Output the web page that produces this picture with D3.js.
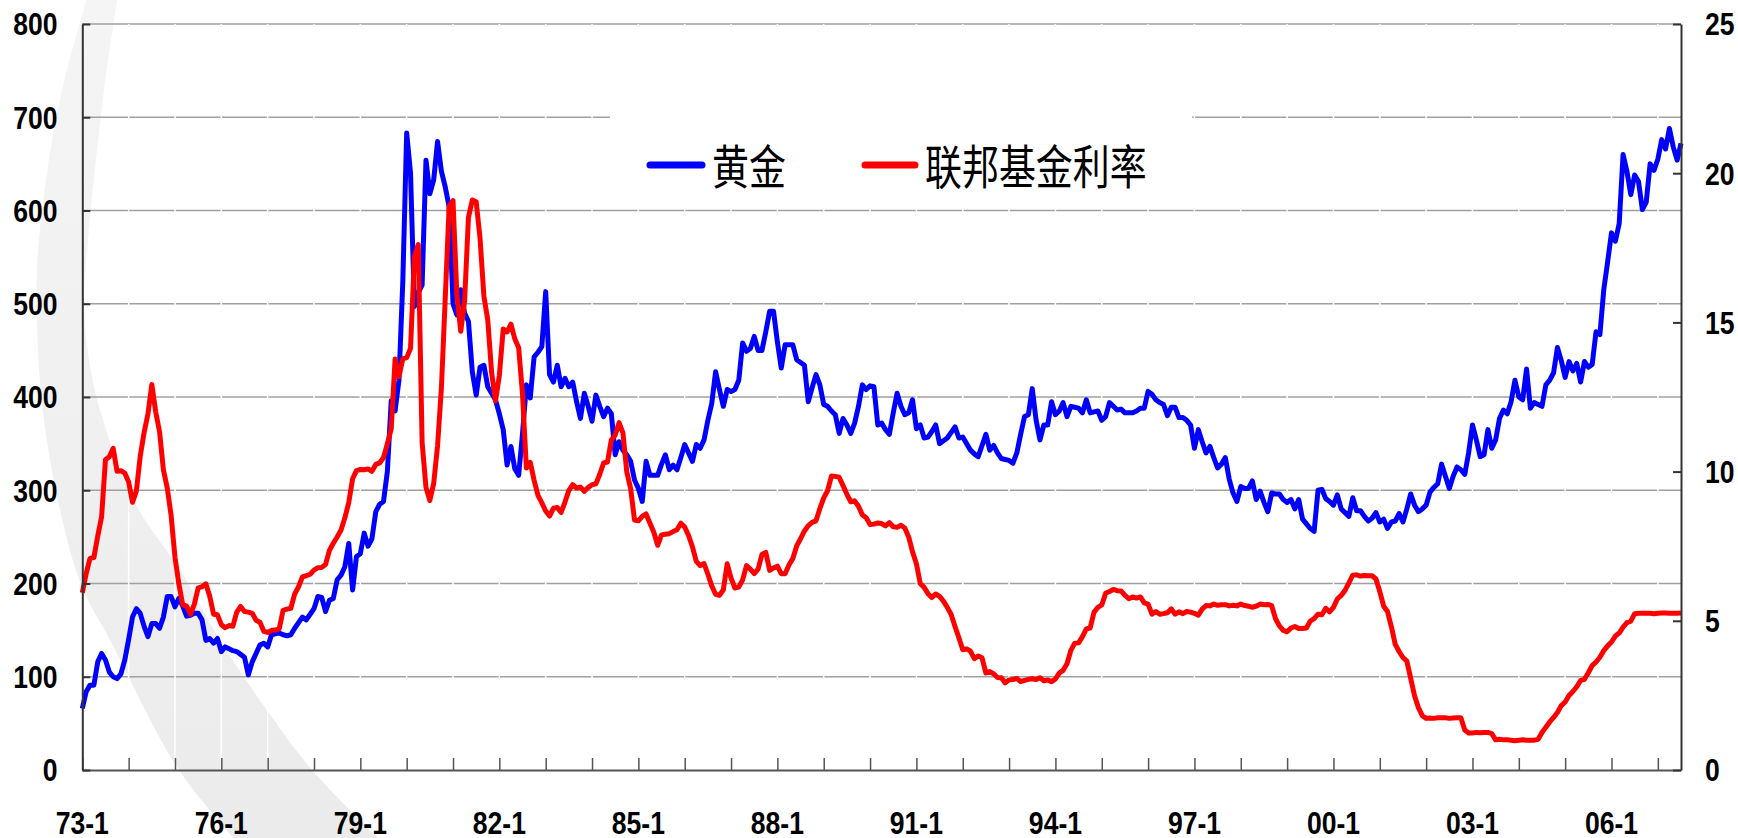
<!DOCTYPE html>
<html>
<head>
<meta charset="utf-8">
<script src="https://cdn.jsdelivr.net/npm/d3@7"></script>
<style>
  body { margin: 0; background: #fff; }
  svg { display: block; }
</style>
</head>
<body>
<script>
// month categories 73-1 .. 07-7
var months = [];
d3.range(1973, 2008).forEach(function(yr) {
    d3.range(1, 13).forEach(function(m) { months.push(String(yr).slice(2) + "-" + m); });
});
months = months.slice(0, 415);

// gold price, USD/oz (left axis)
var goldPrice = [
    66, 84, 91, 91, 116, 125, 118, 105, 100, 98, 103, 118,            // 1973
    140, 164, 173, 168, 154, 143, 157, 157, 152, 164, 186, 186,       // 1974
    175, 184, 176, 165, 166, 168, 168, 161, 139, 141, 136, 141,       // 1975
    127, 132, 130, 128, 127, 124, 121, 102, 116, 125, 134, 136,       // 1976
    132, 145, 146, 147, 145, 144, 145, 152, 158, 164, 161, 167,       // 1977
    173, 186, 185, 170, 182, 184, 204, 209, 218, 243, 193, 229,       // 1978
    232, 254, 240, 248, 277, 285, 288, 320, 396, 385, 418, 524,       // 1979
    683, 640, 497, 512, 520, 654, 618, 633, 674, 642, 625, 604,       // 1980
    500, 488, 515, 490, 481, 427, 402, 432, 434, 411, 404, 397,       // 1981
    382, 365, 327, 347, 323, 316, 361, 413, 399, 443, 448, 454,       // 1982
    513, 424, 416, 434, 411, 420, 411, 416, 395, 377, 404, 390,       // 1983
    374, 402, 390, 379, 388, 382, 338, 352, 343, 338, 331, 311,       // 1984
    302, 288, 331, 316, 316, 316, 328, 338, 322, 327, 322, 335,       // 1985
    349, 340, 331, 349, 345, 354, 375, 393, 427, 408, 390, 408,       // 1986
    406, 408, 418, 458, 449, 452, 465, 450, 450, 470, 492, 492,       // 1987
    459, 431, 456, 456, 456, 440, 437, 434, 395, 410, 424, 413,       // 1988
    392, 390, 385, 381, 361, 377, 370, 361, 372, 390, 413, 408,       // 1989
    412, 411, 370, 372, 365, 360, 383, 404, 390, 381, 383, 397,       // 1990
    366, 370, 356, 357, 363, 370, 350, 353, 356, 362, 368, 356,       // 1991
    357, 350, 343, 339, 336, 348, 360, 343, 348, 340, 334, 333,       // 1992
    332, 329, 340, 360, 379, 381, 409, 375, 354, 370, 370, 395,       // 1993
    381, 385, 394, 379, 390, 389, 388, 383, 397, 383, 384, 385,       // 1994
    375, 379, 394, 390, 386, 387, 383, 383, 383, 385, 388, 388,       // 1995
    406, 403, 397, 394, 392, 380, 389, 389, 378, 378, 375, 370,       // 1996
    345, 365, 352, 340, 347, 335, 324, 328, 335, 312, 297, 288,       // 1997
    304, 302, 302, 310, 290, 299, 287, 277, 297, 296, 296, 290,       // 1998
    287, 290, 280, 290, 269, 264, 259, 256, 300, 301, 291, 288,       // 1999
    284, 295, 280, 276, 272, 292, 278, 278, 272, 267, 270, 276,       // 2000
    266, 269, 259, 266, 267, 275, 266, 280, 296, 284, 277, 280,       // 2001
    284, 298, 303, 307, 328, 315, 302, 315, 325, 322, 317, 340,       // 2002
    370, 354, 336, 338, 365, 345, 354, 377, 386, 382, 395, 418,       // 2003
    400, 397, 430, 388, 394, 392, 390, 413, 418, 426, 453, 439,       // 2004
    421, 438, 428, 436, 416, 438, 432, 435, 470, 467, 515, 545,       // 2005
    576, 567, 586, 660, 642, 617, 638, 631, 601, 609, 650, 643,       // 2006
    655, 676, 666, 688, 668, 654, 672                                 // 2007
];

// federal funds rate, % (right axis)
var fedFunds = [
    5.94, 6.58, 7.09, 7.12, 7.84, 8.49, 10.40, 10.50, 10.78, 10.01, 10.03, 9.95,
    9.65, 8.97, 9.35, 10.51, 11.31, 11.93, 12.92, 12.01, 11.34, 10.06, 9.45, 8.53,
    7.13, 6.24, 5.54, 5.49, 5.22, 5.55, 6.10, 6.14, 6.24, 5.82, 5.22, 5.20,
    4.87, 4.77, 4.84, 4.82, 5.29, 5.48, 5.31, 5.29, 5.25, 5.02, 4.95, 4.65,
    4.61, 4.68, 4.69, 4.73, 5.35, 5.39, 5.42, 5.90, 6.14, 6.47, 6.51, 6.56,
    6.70, 6.78, 6.79, 6.89, 7.36, 7.60, 7.81, 8.04, 8.45, 8.96, 9.76, 10.03,
    10.07, 10.06, 10.09, 10.01, 10.24, 10.29, 10.47, 10.94, 11.43, 13.77, 13.18, 13.78,
    13.82, 14.13, 17.19, 17.61, 10.98, 9.47, 9.03, 9.61, 10.87, 12.81, 15.85, 18.90,
    19.08, 15.93, 14.70, 15.72, 18.52, 19.10, 19.04, 17.82, 15.87, 15.08, 13.31, 12.37,
    13.22, 14.78, 14.68, 14.94, 14.45, 14.15, 12.59, 10.12, 10.31, 9.71, 9.20, 8.95,
    8.68, 8.51, 8.77, 8.80, 8.63, 8.98, 9.37, 9.56, 9.45, 9.48, 9.34, 9.47,
    9.56, 9.59, 9.91, 10.29, 10.32, 11.06, 11.23, 11.64, 11.30, 9.99, 9.43, 8.38,
    8.35, 8.50, 8.58, 8.27, 7.97, 7.53, 7.88, 7.90, 7.92, 7.99, 8.05, 8.27,
    8.14, 7.86, 7.48, 6.99, 6.85, 6.92, 6.56, 6.17, 5.89, 5.85, 6.04, 6.91,
    6.43, 6.10, 6.13, 6.37, 6.85, 6.73, 6.58, 6.73, 7.22, 7.29, 6.69, 6.77,
    6.83, 6.58, 6.58, 6.87, 7.09, 7.51, 7.75, 8.01, 8.19, 8.30, 8.35, 8.76,
    9.12, 9.36, 9.85, 9.84, 9.81, 9.53, 9.24, 8.99, 9.02, 8.84, 8.55, 8.45,
    8.23, 8.24, 8.28, 8.26, 8.18, 8.29, 8.15, 8.13, 8.20, 8.11, 7.81, 7.31,
    6.91, 6.25, 6.12, 5.91, 5.78, 5.90, 5.82, 5.66, 5.45, 5.21, 4.81, 4.43,
    4.03, 4.06, 3.98, 3.73, 3.82, 3.76, 3.25, 3.30, 3.22, 3.10, 3.09, 2.92,
    3.02, 3.03, 3.07, 2.96, 3.00, 3.04, 3.06, 3.03, 3.09, 2.99, 3.02, 2.96,
    3.05, 3.25, 3.34, 3.56, 4.01, 4.25, 4.26, 4.47, 4.73, 4.76, 5.29, 5.45,
    5.53, 5.92, 5.98, 6.05, 6.01, 6.00, 5.85, 5.74, 5.80, 5.76, 5.80, 5.60,
    5.56, 5.22, 5.31, 5.22, 5.24, 5.27, 5.40, 5.22, 5.30, 5.24, 5.31, 5.29,
    5.25, 5.19, 5.39, 5.51, 5.50, 5.56, 5.52, 5.54, 5.54, 5.50, 5.52, 5.50,
    5.56, 5.51, 5.49, 5.45, 5.49, 5.56, 5.54, 5.55, 5.51, 5.07, 4.83, 4.68,
    4.63, 4.76, 4.81, 4.74, 4.74, 4.76, 4.99, 5.07, 5.22, 5.20, 5.42, 5.30,
    5.45, 5.73, 5.85, 6.02, 6.27, 6.53, 6.54, 6.50, 6.52, 6.51, 6.51, 6.40,
    5.98, 5.49, 5.31, 4.80, 4.21, 3.97, 3.77, 3.65, 3.07, 2.49, 2.09, 1.82,
    1.73, 1.74, 1.73, 1.75, 1.75, 1.75, 1.73, 1.74, 1.75, 1.75, 1.34, 1.24,
    1.24, 1.26, 1.25, 1.26, 1.26, 1.22, 1.01, 1.03, 1.01, 1.01, 1.00, 0.98,
    1.00, 1.01, 1.00, 1.00, 1.00, 1.03, 1.26, 1.43, 1.61, 1.76, 1.93, 2.16,
    2.28, 2.50, 2.63, 2.79, 3.00, 3.04, 3.26, 3.50, 3.62, 3.78, 4.00, 4.16,
    4.29, 4.49, 4.59, 4.79, 4.94, 4.99, 5.24, 5.25, 5.25, 5.25, 5.25, 5.24,
    5.25, 5.26, 5.26, 5.25, 5.25, 5.25, 5.26
];

var leftTicks = [0, 100, 200, 300, 400, 500, 600, 700, 800];
var rightTicks = [0, 5, 10, 15, 20, 25];
var xLabels = ["73-1", "76-1", "79-1", "82-1", "85-1", "88-1", "91-1", "94-1", "97-1", "00-1", "03-1", "06-1"];
var seriesNames = ["黄金", "联邦基金利率"];

var width = 1738,
    height = 838;
var plotLeft = 82.3, plotRight = 1681, plotTop = 24, plotBottom = 770;

var svg = d3.select("body").append("svg")
    .attr("width", width)
    .attr("height", height);

var x = d3.scalePoint().domain(months).range([plotLeft, plotRight]);
var yLeft = d3.scaleLinear().domain([0, 800]).range([plotBottom, plotTop]);
var yRight = d3.scaleLinear().domain([0, 25]).range([plotBottom, plotTop]);

var yearTicks = months.filter(function(m) { return /-1$/.test(m); });

// decorative grey swoosh in the background
var grad = svg.append("defs").append("linearGradient")
    .attr("id", "swoosh").attr("x1", 0).attr("y1", 0).attr("x2", 0).attr("y2", 1);
grad.append("stop").attr("offset", "0%").attr("stop-color", "#f5f5f5");
grad.append("stop").attr("offset", "100%").attr("stop-color", "#ebebeb");

var outerEdge = [[88, -5], [62, 90], [46, 180], [37, 267], [38, 350], [44, 420], [60, 510], [82, 587], [110, 640], [179, 770], [240, 845]];
var innerEdge = [[118, -5], [106, 75], [97, 150], [88, 240], [84, 300], [89, 360], [103, 420], [135, 503], [182, 573], [220, 640], [269, 713], [312, 770], [385, 845]];
var edge = d3.line().curve(d3.curveCatmullRom);
svg.append("path")
    .attr("d", edge(outerEdge) + edge(innerEdge.slice().reverse()).replace(/^M/, "L") + "Z")
    .style("fill", "url(#swoosh)");

// horizontal grid
svg.append("g").selectAll("line")
    .data(leftTicks.slice(1))
    .enter().append("line")
    .attr("x1", plotLeft).attr("x2", plotRight)
    .attr("y1", function(d) { return yLeft(d); })
    .attr("y2", function(d) { return yLeft(d); })
    .style("stroke", "#a0a0a0")
    .style("stroke-width", 1.5);

// white vertical grid
svg.append("g").selectAll("line")
    .data(yearTicks.slice(1))
    .enter().append("line")
    .attr("x1", function(d) { return x(d); })
    .attr("x2", function(d) { return x(d); })
    .attr("y1", plotTop).attr("y2", plotBottom)
    .style("stroke", "#fff")
    .style("stroke-width", 1.5);

// legend box
svg.append("rect")
    .attr("x", 610).attr("y", 98).attr("width", 582).attr("height", 100)
    .style("fill", "#fff");

// the two series
var goldLine = d3.line()
    .x(function(d, i) { return x(months[i]); })
    .y(function(d) { return yLeft(d); });
var rateLine = d3.line()
    .x(function(d, i) { return x(months[i]); })
    .y(function(d) { return yRight(d); });

svg.append("path")
    .datum(goldPrice)
    .attr("d", goldLine)
    .style("fill", "none")
    .style("stroke", "#0000ff")
    .style("stroke-width", 5)
    .style("stroke-linejoin", "round");

svg.append("path")
    .datum(fedFunds)
    .attr("d", rateLine)
    .style("fill", "none")
    .style("stroke", "#ff0000")
    .style("stroke-width", 5)
    .style("stroke-linejoin", "round");

// axes
var xAxis = svg.append("g")
    .attr("transform", "translate(0," + plotBottom + ")")
    .call(d3.axisBottom(x).tickValues(yearTicks).tickSize(-12).tickSizeOuter(0).tickFormat(""));
xAxis.select(".domain").style("stroke", "#555").style("stroke-width", 2);
xAxis.selectAll(".tick line").style("stroke", "#555").style("stroke-width", 1.5);

var lAxis = svg.append("g")
    .attr("transform", "translate(" + plotLeft + ",0)")
    .call(d3.axisLeft(yLeft).tickValues(leftTicks).tickSize(-8).tickSizeOuter(0).tickFormat(""));
var rAxis = svg.append("g")
    .attr("transform", "translate(" + plotRight + ",0)")
    .call(d3.axisRight(yRight).tickValues(rightTicks).tickSize(-8).tickSizeOuter(0).tickFormat(""));
[lAxis, rAxis].forEach(function(a) {
    a.select(".domain").style("stroke", "#333").style("stroke-width", 2);
    a.selectAll(".tick line").style("stroke", "#333").style("stroke-width", 2);
});

// tick labels (narrow bold)
function label(g, txt, tx, ty, anchor) {
    g.append("text")
        .attr("transform", "translate(" + tx + "," + ty + ") scale(0.83,1)")
        .attr("text-anchor", anchor)
        .style("font-family", "'Liberation Sans', Arial, sans-serif")
        .style("font-weight", "bold")
        .style("font-size", "32px")
        .style("fill", "#000")
        .text(txt);
}
var labels = svg.append("g");
leftTicks.forEach(function(v) { label(labels, v, 57.5, yLeft(v) + 11.4, "end"); });
rightTicks.forEach(function(v) { label(labels, v, 1705, yRight(v) + 11.4, "start"); });
xLabels.forEach(function(m) { label(labels, m, x(m), 834, "middle"); });

// legend
var legend = svg.append("g");
var legendItems = [
    {name: seriesNames[0], color: "#0000ff", x1: 650, x2: 702, tx: 712},
    {name: seriesNames[1], color: "#ff0000", x1: 865, x2: 915, tx: 925}
];
legendItems.forEach(function(d) {
    legend.append("line")
        .attr("x1", d.x1).attr("x2", d.x2)
        .attr("y1", 165).attr("y2", 165)
        .style("stroke", d.color)
        .style("stroke-width", 7)
        .style("stroke-linecap", "round");
    legend.append("text")
        .attr("transform", "translate(" + d.tx + ",184) scale(0.84,1.06)")
        .style("font-family", "'Noto Sans CJK SC', sans-serif")
        .style("font-size", "44px")
        .style("fill", "#000")
        .text(d.name);
});
</script>
</body>
</html>
